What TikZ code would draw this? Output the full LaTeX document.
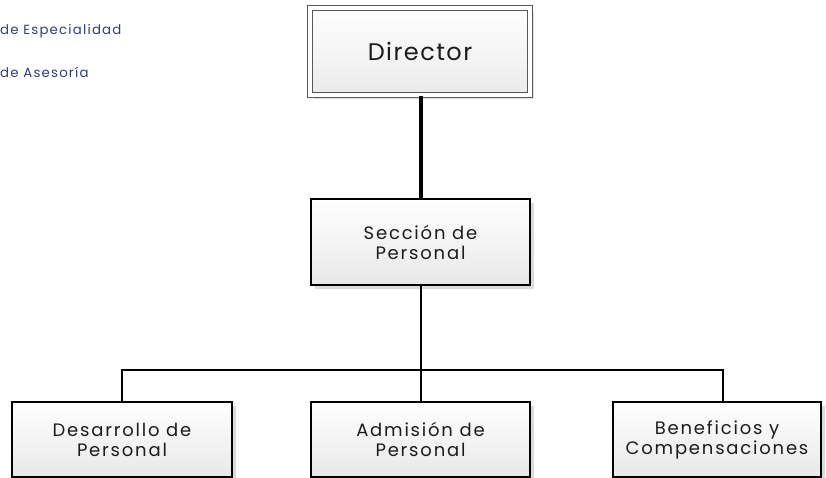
\documentclass[tikz,border=0pt]{standalone}
\usepackage{fontspec}
\setmainfont{Poppins}
\newfontfamily\boxfont[LetterSpace=10]{Poppins}
\newfontfamily\dirfont[LetterSpace=6]{Poppins}
\newfontfamily\legfont[LetterSpace=9]{Poppins}
\usetikzlibrary{shadows}
\definecolor{legendblue}{HTML}{2E3D7C}
\definecolor{txt}{HTML}{1C1C1C}
\tikzset{
  box/.style={draw=black, line width=2.2pt, top color=white, bottom color=black!9,
    drop shadow={shadow xshift=4pt, shadow yshift=-4pt, fill=black!14, opacity=1},
    align=center, text=txt, inner sep=0pt, font=\boxfont\fontsize{18}{20}\selectfont},
  dirbox/.style={draw=black!65, line width=1.3pt, double=white, double distance=3.2pt,
    top color=white, bottom color=black!8,
    drop shadow={shadow xshift=4pt, shadow yshift=-4pt, fill=black!12, opacity=1},
    align=center, text=txt, inner sep=0pt, font=\dirfont\fontsize{24}{28}\selectfont},
  legend/.style={anchor=west, inner sep=0pt, text=legendblue, font=\legfont\fontsize{13.3}{15}\selectfont},
  conn/.style={draw=black, line width=2pt},
  thickconn/.style={draw=black, line width=4pt}
}
\begin{document}
\begin{tikzpicture}[x=1pt,y=-1pt]
\useasboundingbox (0,0) rectangle (826,478);
\node[legend] (l1) at (0,31) {de Especialidad};
\node[legend] (l2) at (0,72) {de Asesoría};

\node[dirbox, minimum width=220pt, minimum height=87pt] (dir) at (420,51.5) {Director};
\node[box, minimum width=219pt, minimum height=86pt] (sec) at (420.5,242) {Sección de\\Personal};
\node[box, minimum width=220pt, minimum height=75pt] (des) at (122,439.5) {Desarrollo de\\Personal};
\node[box, minimum width=219pt, minimum height=75pt] (adm) at (420.5,439.5) {Admisión de\\Personal};
\node[box, minimum width=208pt, minimum height=75pt] (ben) at (717,439.5) {Beneficios y\\Compensaciones};

\coordinate (bus) at (421,370);
\coordinate (bentop) at ([xshift=6pt]ben.north);
\draw[thickconn] (dir.south -| bus) -- (sec.north -| bus);
\draw[conn] (sec.south -| bus) -- (bus);
\draw[conn] (bus) -| (des.north);
\draw[conn] (bus) -| (bentop);
\draw[conn] (bus) -- (adm.north -| bus);
\end{tikzpicture}
\end{document}
